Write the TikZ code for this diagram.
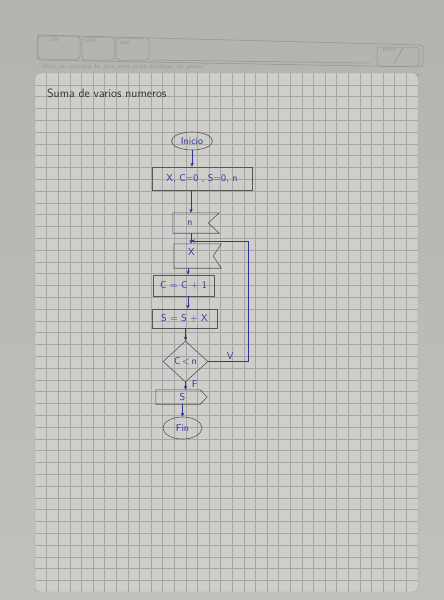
\documentclass[tikz,border=0pt]{standalone}
\usepackage{fontspec}
\usetikzlibrary{shapes.geometric,arrows.meta}
\definecolor{paperout}{RGB}{193,192,188}
\definecolor{papertop}{RGB}{180,179,175}
\definecolor{paperin}{RGB}{207,206,203}
\definecolor{gridc}{RGB}{166,166,166}
\definecolor{inkblue}{RGB}{45,55,150}
\definecolor{pencilgray}{RGB}{85,85,85}
\definecolor{hdrgray}{RGB}{145,145,145}
\definecolor{hdrfaint}{RGB}{178,178,176}
\begin{document}
\begin{tikzpicture}[x=1pt,y=-1pt,
  pencil/.style={draw=pencilgray, line width=0.6pt},
  arr/.style={draw=inkblue, line width=0.6pt, -{Stealth[length=4pt,width=3.4pt]}},
  inktext/.style={text=inkblue, font=\sffamily\fontsize{10}{11}\selectfont},
  gridline/.style={draw=gridc, line width=0.4pt},
  hbox/.style={draw=hdrgray, line width=0.5pt, rounded corners=3pt},
  hlabel/.style={text=hdrgray, font=\sffamily\fontsize{4.5}{5}\selectfont, inner sep=0},
]
\useasboundingbox (0,0) rectangle (444,600);
\shade[top color=papertop, bottom color=paperout] (0,0) rectangle (444,600);

% header
\draw[hbox] (37,35) -- (423,45) -- (423,67) -- (37,60) -- cycle;
\draw[hbox] (38,36) rectangle (80,59);
\draw[hbox] (82,37) rectangle (114,60);
\draw[hbox] (116,38) rectangle (149,60);
\draw[draw=hdrgray, line width=0.5pt] (152,60) -- (370,63);
\draw[draw=hdrfaint, line width=0.5pt, rounded corners=3pt] (315,47) rectangle (374,62);
\draw[hbox] (377,47) rectangle (419,66);
\draw[draw=hdrgray, line width=0.6pt] (403,48) -- (394,63);
\node[hlabel] (dia) at (55,40) {DÍA};
\node[hlabel] (mes) at (91,41) {MES};
\node[hlabel] (ano) at (125,43) {AÑO};
\node[hlabel] (nota) at (389,50) {NOTA};
\node[anchor=west, inner sep=0, text=hdrgray, font=\itshape\fontsize{6.8}{7}\selectfont] (quote) at (37,67) {“Más se estima lo que con más trabajo se gana”};
\node[anchor=east, inner sep=0, text=hdrgray, font=\sffamily\fontsize{4.5}{5}\selectfont] (brand) at (419,75) {Americana};

% grid
\begin{scope}
\clip[rounded corners=5pt] (35,73) rectangle (418,592);
\fill[paperin] (35,73) rectangle (418,592);
\foreach \i in {1,...,32} \draw[gridline] ({35+11.6*\i},73) -- ({35+11.6*\i},592);
\foreach \j in {1,...,43} \draw[gridline] (35,{73+11.8*\j}) -- (418,{73+11.8*\j});
\end{scope}
\draw[gridline, rounded corners=5pt] (35,73) rectangle (418,592);

% title
\node[anchor=base west, inner sep=0, text=black!80, font=\sffamily\fontsize{12}{13}\selectfont] (title) at (47,97) {Suma de varios numeros};

% flowchart nodes
\node[pencil, ellipse, minimum width=41pt, minimum height=18pt, inner sep=0, inktext] (inicio) at (192,141) {Inicio};
\node[pencil, rectangle, minimum width=100pt, minimum height=23pt, inner sep=0, inktext] (init) at (202,178.5) {X, C=0 , S=0, n};

\node[inner sep=0, minimum width=46pt, minimum height=20pt] (readn) at (196,223) {};
\draw[pencil] (readn.north west) -- (readn.north east) -- ([xshift=-11pt]readn.east) -- (readn.south east) -- (readn.south west) -- cycle;
\node[inktext, inner sep=0] (readnt) at ([xshift=-6pt]readn.center) {n};

\node[inner sep=0, minimum width=47pt, minimum height=24pt] (readx) at (197.5,256) {};
\draw[pencil] (readx.north west) -- (readx.north east) -- ([xshift=-8pt]readx.east) -- (readx.south east) -- (readx.south west) -- cycle;
\node[inktext, inner sep=0] (readxt) at ([xshift=-6pt,yshift=4pt]readx.center) {X};

\node[pencil, rectangle, minimum width=61pt, minimum height=21pt, inner sep=0, inktext] (cinc) at (183.5,285.5) {C = C + 1};
\node[pencil, rectangle, minimum width=65pt, minimum height=19pt, inner sep=0, inktext] (sbox) at (184.5,318.5) {S = S + X};
\node[pencil, diamond, minimum width=45pt, minimum height=41pt, inner sep=0, inktext] (dec) at (185.5,361.5) {C\,<\,n};

\node[inner sep=0, minimum width=51pt, minimum height=14pt] (outS) at (181.5,397) {};
\draw[pencil] (outS.north west) -- ([xshift=-7pt]outS.north east) -- (outS.east) -- ([xshift=-7pt]outS.south east) -- (outS.south west) -- cycle;
\node[inktext, inner sep=0] (outSt) at ([xshift=1pt]outS.center) {S};

\node[pencil, ellipse, minimum width=39pt, minimum height=22pt, inner sep=0, inktext] (fin) at (182.5,428) {Fin};

% connectors
\coordinate (ax) at (191,0);
\coordinate (ax2) at (188,0);
\coordinate (loopc) at (248,241);
\draw[arr] (inicio.south) -- (inicio.south |- init.north);
\draw[arr] (ax |- init.south) -- (ax |- readn.north);
\draw[arr] (ax |- readn.south) -- (ax |- readx.north);
\draw[arr] (ax2 |- readx.south) -- (ax2 |- cinc.north);
\draw[arr] (ax2 |- cinc.south) -- (ax2 |- sbox.north);
\draw[arr] (dec.north |- sbox.south) -- (dec.north);
\draw[arr] (dec.east) -- node[pos=0.55, above, inktext, inner sep=1.5pt] {V} (dec.east -| loopc) -- (loopc) -- (ax |- loopc);
\draw[arr] (dec.south) -- node[pos=0.2, right, inktext, inner sep=6pt] {F} (dec.south |- outS.north);
\draw[arr] (fin.north |- outS.south) -- (fin.north);
\end{tikzpicture}
\end{document}
